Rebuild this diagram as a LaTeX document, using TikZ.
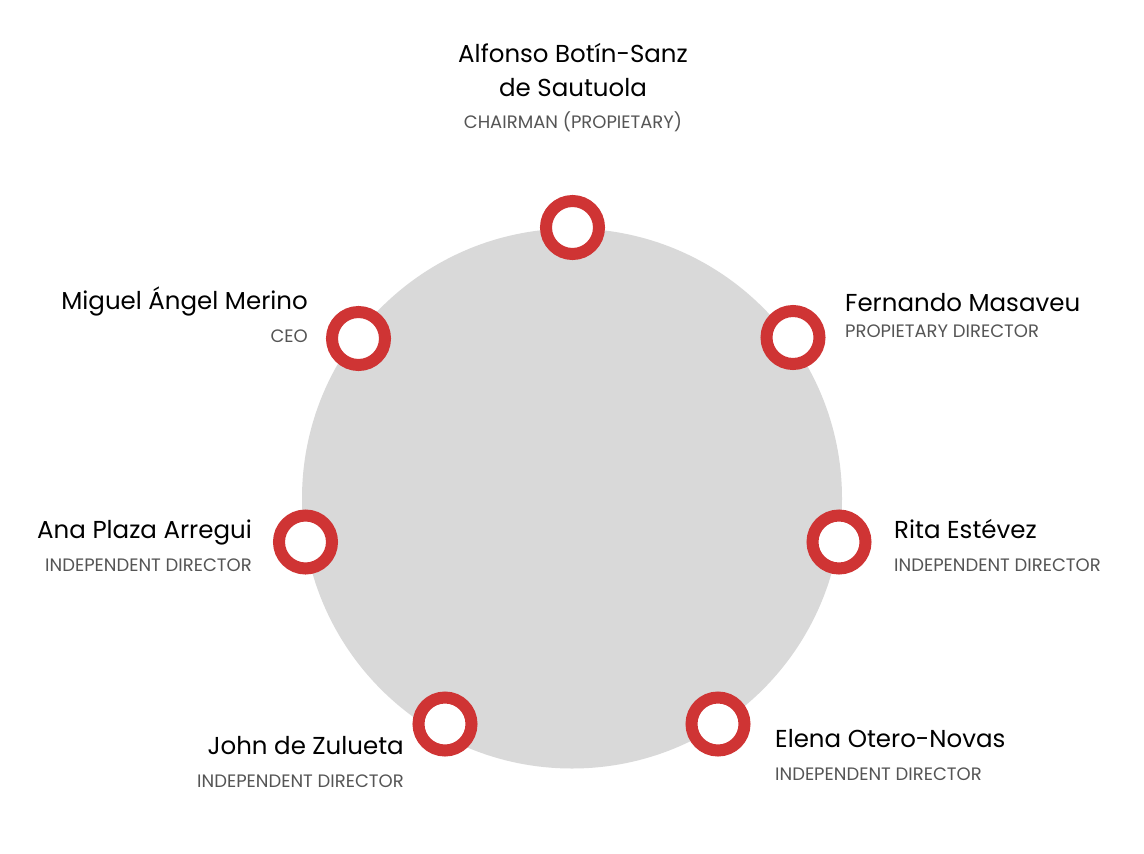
\documentclass[tikz,border=0pt]{standalone}
\usepackage{fontspec}
\setmainfont{Poppins}
\definecolor{ringred}{HTML}{CF3434}
\definecolor{disc}{HTML}{D9D9D9}
\definecolor{subgray}{HTML}{555555}
\begin{document}
\begin{tikzpicture}[x=1pt,y=-1pt,
  ring/.style={circle, draw=ringred, line width=12pt, fill=white, minimum size=53pt, inner sep=0pt},
  pname/.style={font=\fontsize{24.5}{28}\selectfont, text=black, inner sep=0pt},
  prole/.style={font=\fontsize{18}{22}\selectfont, text=subgray, inner sep=0pt}]
\useasboundingbox (0,0) rectangle (1144,854);
\fill[white] (0,0) rectangle (1144,854);
\node[circle, fill=disc, minimum size=540pt, inner sep=0pt] (board) at (572,498.5) {};
% rings
\node[ring] (r1) at (572.5,227.5) {};
\node[ring] (r2) at (793,337.5) {};
\node[ring] (r3) at (839,542) {};
\node[ring] (r4) at (718,724) {};
\node[ring] (r5) at (445,724) {};
\node[ring] (r6) at (305.5,542) {};
\node[ring] (r7) at (358.5,338.5) {};
% top
\node[pname, anchor=base] (t1a) at (573,62) {Alfonso Botín-Sanz};
\node[pname, anchor=base] (t1b) at (573,96) {de Sautuola};
\node[prole, anchor=base] (t1c) at (573,128) {CHAIRMAN (PROPIETARY)};
% Fernando
\node[pname, anchor=base west] (t2a) at (845,311) {Fernando Masaveu};
\node[prole, anchor=base west] (t2b) at (845,337) {PROPIETARY DIRECTOR};
% Rita
\node[pname, anchor=base west] (t3a) at (894,538) {Rita Estévez};
\node[prole, anchor=base west] (t3b) at (894,571) {INDEPENDENT DIRECTOR};
% Elena
\node[pname, anchor=base west] (t4a) at (775,747) {Elena Otero-Novas};
\node[prole, anchor=base west] (t4b) at (775,780) {INDEPENDENT DIRECTOR};
% John
\node[pname, anchor=base east] (t5a) at (404,754) {John de Zulueta};
\node[prole, anchor=base east] (t5b) at (404,787) {INDEPENDENT DIRECTOR};
% Ana
\node[pname, anchor=base east] (t6a) at (252,538) {Ana Plaza Arregui};
\node[prole, anchor=base east] (t6b) at (252,571) {INDEPENDENT DIRECTOR};
% Miguel
\node[pname, anchor=base east] (t7a) at (308,309) {Miguel Ángel Merino};
\node[prole, anchor=base east] (t7b) at (308,342) {CEO};
\end{tikzpicture}
\end{document}
